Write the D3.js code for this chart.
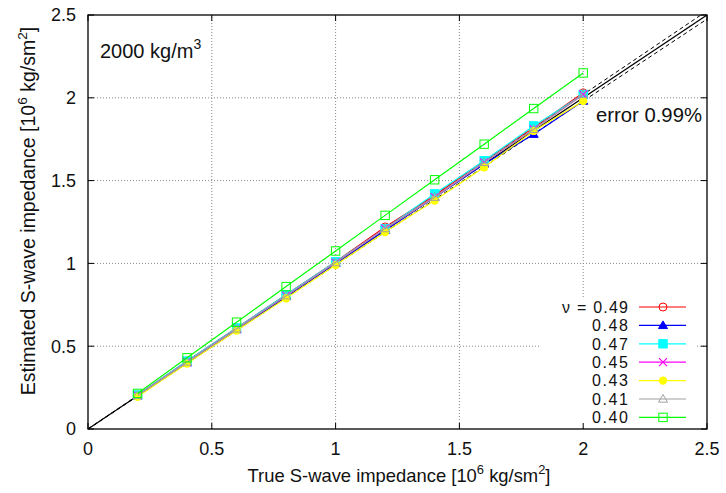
<!DOCTYPE html>
<html>
<head>
<meta charset="utf-8">
<script src="https://cdn.jsdelivr.net/npm/d3@7"></script>
<style>
  body { margin: 0; background: #fff; }
  svg { font-family: "Liberation Sans", Arial, sans-serif; }
</style>
</head>
<body>
<svg id="chart" width="726" height="493" viewBox="0 0 726 493"></svg>
<script>
// true impedance (x)
const trueZ = [0.2, 0.4, 0.6, 0.8, 1.0, 1.2, 1.4, 1.6, 1.8, 2.0];

// estimated impedance for each Poisson ratio
const nu049 = [0.205, 0.41, 0.61, 0.81, 1.01, 1.22, 1.41, 1.62, 1.82, 2.03];
const nu048 = [0.200, 0.40, 0.60, 0.80, 1.00, 1.20, 1.40, 1.60, 1.78, 1.98];
const nu047 = [0.205, 0.41, 0.61, 0.81, 1.01, 1.21, 1.42, 1.62, 1.83, 2.02];
const nu045 = [0.203, 0.405, 0.605, 0.805, 1.005, 1.21, 1.40, 1.61, 1.81, 2.02];
const nu043 = [0.195, 0.395, 0.595, 0.79, 0.99, 1.19, 1.38, 1.58, 1.80, 1.98];
const nu041 = [0.203, 0.405, 0.605, 0.805, 1.005, 1.21, 1.40, 1.61, 1.81, 2.02];
const nu040 = [0.215, 0.43, 0.645, 0.86, 1.075, 1.29, 1.505, 1.72, 1.935, 2.15];

const seriesLabels = ["\u03bd = 0.49", "0.48", "0.47", "0.45", "0.43", "0.41", "0.40"];
const xTicks = [0, 0.5, 1, 1.5, 2, 2.5];
const yTicks = [0, 0.5, 1, 1.5, 2, 2.5];
const errorPct = 0.99;

const series = [
  {label: seriesLabels[0], values: nu049, color: "#ff0000", marker: "circleOpen"},
  {label: seriesLabels[1], values: nu048, color: "#0000ff", marker: "triFill"},
  {label: seriesLabels[2], values: nu047, color: "#00ffff", marker: "squareFill"},
  {label: seriesLabels[3], values: nu045, color: "#ff00ff", marker: "cross"},
  {label: seriesLabels[4], values: nu043, color: "#ffff00", marker: "circleFill"},
  {label: seriesLabels[5], values: nu041, color: "#a0a0a0", marker: "triOpen"},
  {label: seriesLabels[6], values: nu040, color: "#00ff00", marker: "squareOpen"}
];

const svg = d3.select("#chart");
const margin = {left: 88, right: 19, top: 15, bottom: 64};
const W = 726, H = 493;
const x = d3.scaleLinear().domain([0, 2.5]).range([margin.left, W - margin.right]);
const y = d3.scaleLinear().domain([0, 2.5]).range([H - margin.bottom, margin.top]);

svg.append("defs").append("clipPath").attr("id", "plotclip")
  .append("rect")
  .attr("x", x(0)).attr("y", y(2.5))
  .attr("width", x(2.5) - x(0)).attr("height", y(0) - y(2.5));

// grid
let grid = svg.append("g");
xTicks.slice(1, -1).forEach(t => {
  grid.append("line")
    .attr("x1", x(t)).attr("x2", x(t)).attr("y1", y(0)).attr("y2", y(2.5))
    .attr("stroke", "#888").attr("stroke-width", 1).attr("stroke-dasharray", "1,2");
});
yTicks.slice(1, -1).forEach(t => {
  grid.append("line")
    .attr("x1", x(0)).attr("x2", x(2.5)).attr("y1", y(t)).attr("y2", y(t))
    .attr("stroke", "#888").attr("stroke-width", 1).attr("stroke-dasharray", "1,2");
});

// legend box background hides grid
const legX = 540, legY = 297, legRow = 18.4;
svg.append("rect")
  .attr("x", legX).attr("y", legY).attr("width", 156).attr("height", y(0) - legY - 1)
  .attr("fill", "#fff");

// reference lines y = x and +/- error
let ref = svg.append("g").attr("clip-path", "url(#plotclip)");
ref.append("line")
  .attr("x1", x(0)).attr("y1", y(0)).attr("x2", x(2.5)).attr("y2", y(2.5))
  .attr("stroke", "#000").attr("stroke-width", 1.2);
[1 + errorPct / 100, 1 - errorPct / 100].forEach(k => {
  ref.append("line")
    .attr("x1", x(0)).attr("y1", y(0)).attr("x2", x(2.6)).attr("y2", y(2.6 * k))
    .attr("stroke", "#000").attr("stroke-width", 1).attr("stroke-dasharray", "4,3");
});

function drawMarker(g, type, cx, cy, color) {
  if (type === "circleOpen") {
    g.append("circle").attr("cx", cx).attr("cy", cy).attr("r", 4)
      .attr("fill", "none").attr("stroke", color).attr("stroke-width", 1);
  } else if (type === "circleFill") {
    g.append("circle").attr("cx", cx).attr("cy", cy).attr("r", 4.2).attr("fill", color);
  } else if (type === "triFill" || type === "triOpen") {
    const s = 4.5;
    g.append("path")
      .attr("d", `M${cx},${cy - s}L${cx + s},${cy + s * 0.7}L${cx - s},${cy + s * 0.7}Z`)
      .attr("fill", type === "triFill" ? color : "none")
      .attr("stroke", color).attr("stroke-width", 1);
  } else if (type === "squareFill" || type === "squareOpen") {
    const s = 4.2;
    g.append("rect").attr("x", cx - s).attr("y", cy - s).attr("width", 2 * s).attr("height", 2 * s)
      .attr("fill", type === "squareFill" ? color : "none")
      .attr("stroke", color).attr("stroke-width", 1);
  } else if (type === "cross") {
    const s = 4;
    g.append("path")
      .attr("d", `M${cx - s},${cy - s}L${cx + s},${cy + s}M${cx - s},${cy + s}L${cx + s},${cy - s}`)
      .attr("stroke", color).attr("stroke-width", 1.2);
  }
}

// data
const line = d3.line().x(d => x(d[0])).y(d => y(d[1]));
series.forEach(s => {
  let pts = trueZ.map((t, i) => [t, s.values[i]]);
  let g = svg.append("g");
  g.append("path").datum(pts).attr("d", line)
    .attr("fill", "none").attr("stroke", s.color).attr("stroke-width", 1.2);
  pts.forEach(p => drawMarker(g, s.marker, x(p[0]), y(p[1]), s.color));
});

// legend
series.forEach((s, i) => {
  let cy = legY + 10 + i * legRow;
  svg.append("text")
    .attr("x", 628).attr("y", cy).attr("dy", "0.36em")
    .attr("text-anchor", "end").attr("font-size", 16).attr("fill", "#111")
    .attr("textLength", s.label.length > 4 ? 66 : 36)
    .text(s.label);
  svg.append("line")
    .attr("x1", 639).attr("x2", 686).attr("y1", cy).attr("y2", cy)
    .attr("stroke", s.color).attr("stroke-width", 1.2);
  drawMarker(svg, s.marker, 663, cy, s.color);
});

// axes (ticks inward, mirrored)
const tickLen = 6;
let axes = svg.append("g");
xTicks.forEach(t => {
  axes.append("line").attr("x1", x(t)).attr("x2", x(t)).attr("y1", y(0)).attr("y2", y(0) - tickLen).attr("stroke", "#000");
  axes.append("line").attr("x1", x(t)).attr("x2", x(t)).attr("y1", y(2.5)).attr("y2", y(2.5) + tickLen).attr("stroke", "#000");
  axes.append("text")
    .attr("x", x(t)).attr("y", 455)
    .attr("text-anchor", "middle").attr("font-size", 18).attr("fill", "#111")
    .text(d3.format("~g")(t));
});
yTicks.forEach(t => {
  axes.append("line").attr("x1", x(0)).attr("x2", x(0) + tickLen).attr("y1", y(t)).attr("y2", y(t)).attr("stroke", "#000");
  axes.append("line").attr("x1", x(2.5)).attr("x2", x(2.5) - tickLen).attr("y1", y(t)).attr("y2", y(t)).attr("stroke", "#000");
  axes.append("text")
    .attr("x", 76).attr("y", y(t)).attr("dy", "0.35em")
    .attr("text-anchor", "end").attr("font-size", 18).attr("fill", "#111")
    .text(d3.format("~g")(t));
});
axes.append("rect")
  .attr("x", x(0)).attr("y", y(2.5))
  .attr("width", x(2.5) - x(0)).attr("height", y(0) - y(2.5))
  .attr("fill", "none").attr("stroke", "#000").attr("stroke-width", 1.3);

// axis titles
function titleParts(t, fs) {
  const up = fs * 0.42, sub = fs * 0.7;
  t.append("tspan").text(t.attr("data-head") + " [10");
  t.append("tspan").attr("dy", -up).attr("font-size", sub).text("6");
  t.append("tspan").attr("dy", up).text(" kg/sm");
  t.append("tspan").attr("dy", -up).attr("font-size", sub).text("2");
  t.append("tspan").attr("dy", up).text("]");
}
let xt = svg.append("text")
  .attr("data-head", "True S-wave impedance")
  .attr("x", 399).attr("y", 482)
  .attr("text-anchor", "middle").attr("font-size", 18.4).attr("fill", "#111");
titleParts(xt, 18.4);

let yt = svg.append("text")
  .attr("data-head", "Estimated S-wave impedance")
  .attr("transform", "translate(35,211) rotate(-90)")
  .attr("text-anchor", "middle").attr("font-size", 19.5).attr("fill", "#111");
titleParts(yt, 19.5);

// annotations
let dens = svg.append("text").attr("x", 100).attr("y", 58).attr("font-size", 20).attr("fill", "#111");
dens.append("tspan").text("2000 kg/m");
dens.append("tspan").attr("dy", -9).attr("font-size", 14).text("3");

svg.append("text").attr("x", 596).attr("y", 122).attr("font-size", 20.3).attr("fill", "#111")
  .text(`error ${errorPct}%`);
</script>
</body>
</html>
